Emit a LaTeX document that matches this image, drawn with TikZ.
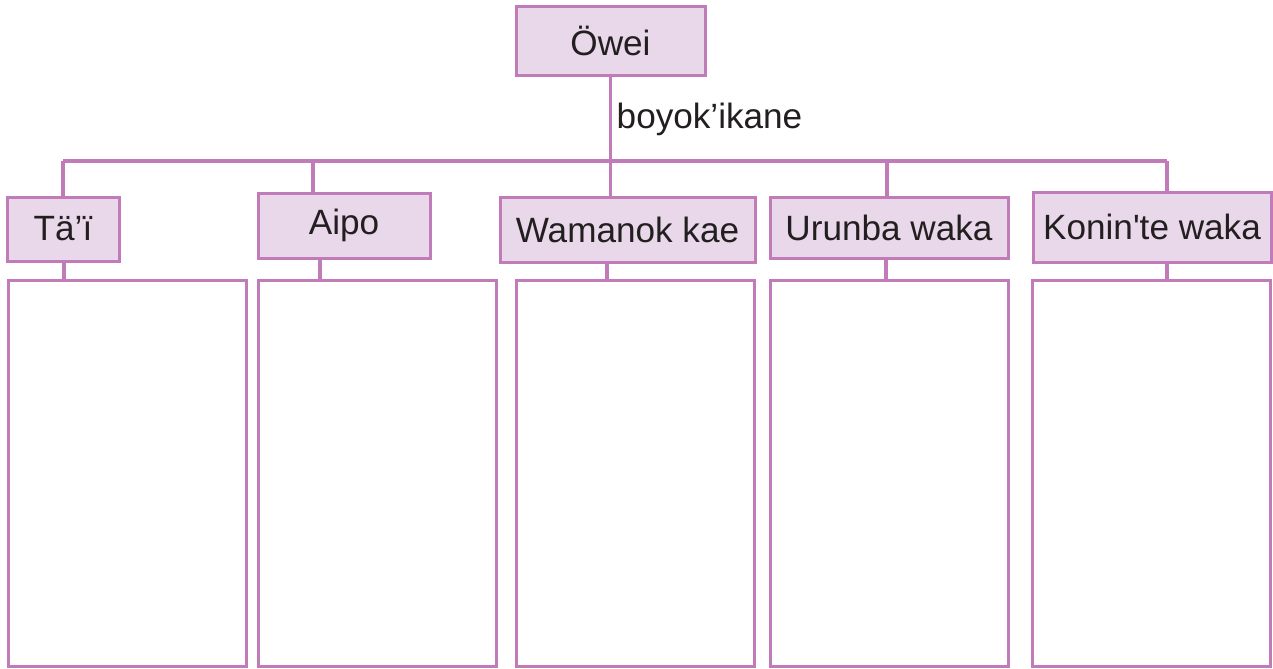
\documentclass[tikz,border=0pt]{standalone}
\usepackage{fontspec}
\setmainfont{Liberation Sans}
\usetikzlibrary{positioning}
\definecolor{plum}{HTML}{C27BB9}
\definecolor{lilac}{HTML}{E8D8EA}
\definecolor{ink}{HTML}{231F20}

\begin{document}
\begin{tikzpicture}[x=0.1mm,y=-0.1mm,font=\fontsize{10}{12}\selectfont,text=ink,
  hdr/.style={draw=plum,line width=0.3mm,fill=lilac,inner sep=0pt},
  panel/.style={draw=plum,line width=0.3mm,fill=white,minimum width=23.8mm,minimum height=38.6mm,inner sep=0pt},
  link/.style={draw=plum,line width=0.32mm}]
  \useasboundingbox (0,0) rectangle (1273,668);
  % top box and its label
  \node[hdr,minimum width=18.9mm,minimum height=6.9mm] (owei) at (610.5,40.5) {Öwei};
  \node[anchor=west,inner sep=0pt] (lbl) at (616,119) {boyok’ikane};
  % second row
  \node[hdr,minimum width=11.2mm,minimum height=6.4mm] (tai) at (63,229) {Tä’ï};
  \node[hdr,minimum width=17.2mm,minimum height=6.5mm] (aipo) at (344,225.5) {Aipo};
  \node[hdr,minimum width=25.5mm,minimum height=6.5mm] (wam) at (627.5,229.5) {Wamanok kae};
  \node[hdr,minimum width=23.8mm,minimum height=6.1mm] (uru) at (889,227.5) {Urunba waka};
  \node[hdr,minimum width=23.8mm,minimum height=7.0mm] (kon) at (1152,227) {Konin\textquotesingle te waka};
  % empty panels
  \node[panel] (p1) at (127,473) {};
  \node[panel] (p2) at (377.5,473) {};
  \node[panel] (p3) at (635,473) {};
  \node[panel] (p4) at (889,473) {};
  \node[panel] (p5) at (1151,473) {};
  % bus
  \coordinate (busL) at (63,161);
  \coordinate (busR) at (1167,161);
  \coordinate (d2) at (313,161);
  \coordinate (d4) at (887,161);
  \draw[link] (busL) -- (busR);
  \draw[link] (owei.south) -- (owei.south |- wam.north);
  \draw[link] (busL) -- (busL |- tai.north);
  \draw[link] (d2) -- (d2 |- aipo.north);
  \draw[link] (d4) -- (d4 |- uru.north);
  \draw[link] (busR) -- (busR |- kon.north);
  % header to panel
  \coordinate (e1) at (64,0);
  \coordinate (e2) at (320,0);
  \coordinate (e3) at (607,0);
  \coordinate (e4) at (886,0);
  \coordinate (e5) at (1167,0);
  \foreach \h/\p/\e in {tai/p1/e1,aipo/p2/e2,wam/p3/e3,uru/p4/e4,kon/p5/e5}
    \draw[link] (\e |- \h.south) -- (\e |- \p.north);
\end{tikzpicture}
\end{document}
